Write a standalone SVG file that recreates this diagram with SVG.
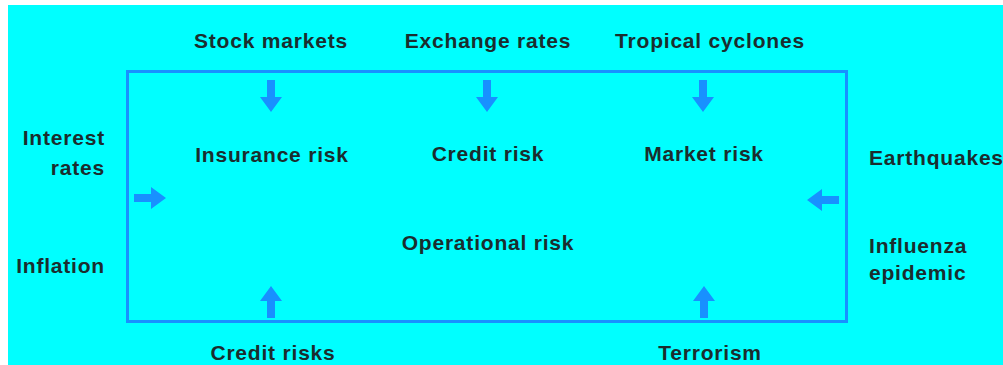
<svg xmlns="http://www.w3.org/2000/svg" width="1003" height="365" viewBox="0 0 1003 365">
<style>
.t{font-family:"Liberation Sans",Arial,sans-serif;font-weight:bold;font-size:21px;letter-spacing:0.8px;fill:#1b2d2e}
.m{text-anchor:middle}
.e{text-anchor:end}
.box{fill:none;stroke:#1890ff;stroke-width:3}
.arr{fill:#1890ff}
</style>
<defs>
<path id="down" d="M-4,0 H4 V17 H11 L0,32 L-11,17 H-4 Z"/>
</defs>
<rect x="0" y="0" width="1003" height="365" fill="#ffffff"/>
<rect x="8" y="5" width="995" height="360" fill="#00ffff"/>
<g id="frame">
<rect class="box" x="127.5" y="71.5" width="719" height="250"/>
</g>
<g id="connectors" class="arr">
<use href="#down" x="271" y="80"/>
<use href="#down" x="487" y="80"/>
<use href="#down" x="703" y="80"/>
<use href="#down" transform="translate(271,318) rotate(180)"/>
<use href="#down" transform="translate(704,318) rotate(180)"/>
<use href="#down" transform="translate(134,198) rotate(-90)"/>
<use href="#down" transform="translate(839,200) rotate(90)"/>
</g>
<g id="stock-markets"><text class="t m" x="271" y="48">Stock markets</text></g>
<g id="exchange-rates"><text class="t m" x="488" y="48">Exchange rates</text></g>
<g id="tropical-cyclones"><text class="t m" x="710" y="48">Tropical cyclones</text></g>
<g id="interest-rates"><text class="t e" x="105" y="145">Interest</text><text class="t e" x="105" y="175">rates</text></g>
<g id="inflation"><text class="t e" x="105" y="273">Inflation</text></g>
<g id="insurance-risk"><text class="t m" x="272" y="162">Insurance risk</text></g>
<g id="credit-risk"><text class="t m" x="488" y="161">Credit risk</text></g>
<g id="market-risk"><text class="t m" x="704" y="161">Market risk</text></g>
<g id="operational-risk"><text class="t m" x="488" y="250">Operational risk</text></g>
<g id="earthquakes"><text class="t" x="869" y="165">Earthquakes</text></g>
<g id="influenza-epidemic"><text class="t" x="869" y="253">Influenza</text><text class="t" x="869" y="280">epidemic</text></g>
<g id="credit-risks"><text class="t m" x="273" y="360">Credit risks</text></g>
<g id="terrorism"><text class="t m" x="710" y="360">Terrorism</text></g>
</svg>
